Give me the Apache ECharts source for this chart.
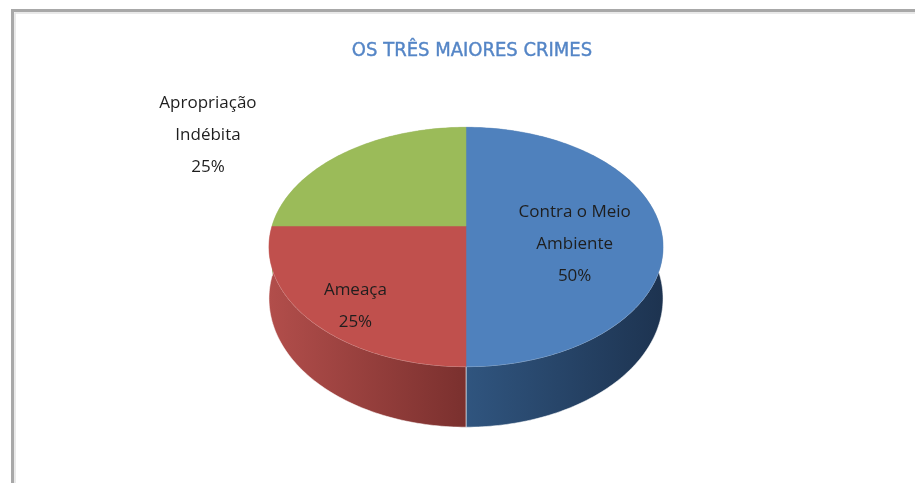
<!DOCTYPE html>
<html>
<head>
<meta charset="utf-8">
<script src="https://cdn.jsdelivr.net/npm/echarts@6/dist/echarts.min.js"></script>
<style>
  html, body { margin: 0; padding: 0; background: #fff; }
  #chart { width: 915px; height: 483px; }
</style>
</head>
<body>
<div id="chart"></div>
<script>
// dados do gráfico
const categories = ['Contra o Meio Ambiente', 'Ameaça', 'Apropriação Indébita']
const labelNames = ['Contra o Meio\nAmbiente', 'Ameaça', 'Apropriação\nIndébita']
const values = [50, 25, 25]

// estilo de cada fatia
const topColors = ['#4F81BD', '#C0504D', '#9BBB59']
const sideColors = [['#30557f', '#1d3350'], ['#b24e4b', '#7a302e'], ['#7d9a45', '#5f7834']]
// posição do rótulo relativa ao centro (fração dos raios)
const labelSpots = [[0.56, 0.16], [-0.57, 0.69], [-1.33, -0.78]]

// geometria da pizza 3D (perspectiva simples)
const cx = 466, cy = 226, A = 194, B = 116, p = 0.175, D = 50

const total = values.reduce((a, b) => a + b, 0)
const starts = []
let acc = 0
values.forEach(v => { starts.push(acc / total * Math.PI * 2); acc += v })

function project(theta, drop) {
    const u = Math.sin(theta), v = Math.cos(theta)
    const w = 1 + p * v
    return [cx + A * u / w, cy + (-B * v + drop) / w]
}

function arc(t0, t1, drop) {
    const pts = []
    const n = Math.max(2, Math.ceil((t1 - t0) / (Math.PI / 180)))
    for (let i = 0; i <= n; i++) {
        pts.push(project(t0 + (t1 - t0) * i / n, drop))
    }
    return pts
}

function sliceRange(i) {
    return [starts[i], starts[i] + values[i] / total * Math.PI * 2]
}

function renderSide(params, api) {
    const i = params.dataIndex
    const [t0, t1] = sliceRange(i)
    const pts = arc(t0, t1, 0).concat(arc(t0, t1, D).reverse())
    return {
        type: 'polygon',
        shape: { points: pts },
        style: {
            fill: new echarts.graphic.LinearGradient(0, 0, 1, 0, [
                { offset: 0, color: sideColors[i][0] },
                { offset: 1, color: sideColors[i][1] }
            ]),
            stroke: 'rgba(255,255,255,0.55)',
            lineWidth: 1
        }
    }
}

function renderTop(params, api) {
    const i = params.dataIndex
    const [t0, t1] = sliceRange(i)
    const pts = [[cx, cy]].concat(arc(t0, t1, 0))
    const pct = Math.round(values[i] / total * 100) + '%'
    return {
        type: 'group',
        children: [
            {
                type: 'polygon',
                shape: { points: pts },
                style: { fill: topColors[i], stroke: topColors[i], lineWidth: 0.5 }
            },
            {
                type: 'text',
                z2: 10,
                style: {
                    x: cx + A * labelSpots[i][0],
                    y: cy + B * labelSpots[i][1],
                    text: labelNames[i] + '\n' + pct,
                    align: 'center',
                    verticalAlign: 'middle',
                    fontFamily: 'Open Sans',
                    fontSize: 17,
                    lineHeight: 32,
                    fill: '#1e1e1e'
                }
            }
        ]
    }
}

const chart = echarts.init(document.getElementById('chart'))

const option = {
    backgroundColor: '#fff',
    animation: false,
    title: {
        text: 'OS TRÊS MAIORES CRIMES',
        left: 467,
        top: 36,
        textAlign: 'center',
        textStyle: {
            color: '#5485c6',
            fontFamily: "'Liberation Sans Narrow', 'DejaVu Sans Condensed', sans-serif",
            fontWeight: 'normal',
            fontSize: 20,
            textBorderColor: '#5485c6',
            textBorderWidth: 0.4
        }
    },
    graphic: [
        {
            type: 'polyline',
            shape: { points: [[12.5, 483], [12.5, 10.5], [915, 10.5]] },
            style: { stroke: '#a8a8a8', lineWidth: 3, fill: null }
        },
        {
            type: 'polyline',
            shape: { points: [[15, 483], [15, 13], [915, 13]] },
            style: { stroke: '#e2e2e2', lineWidth: 1.5, fill: null }
        }
    ],
    series: [
        {
            type: 'custom',
            coordinateSystem: 'none',
            name: 'lados',
            z: 1,
            data: values.map((v, i) => ({ name: categories[i], value: v })),
            renderItem: renderSide
        },
        {
            type: 'custom',
            coordinateSystem: 'none',
            name: 'topo',
            z: 2,
            data: values.map((v, i) => ({ name: categories[i], value: v })),
            renderItem: renderTop
        }
    ]
}

chart.setOption(option)
</script>
</body>
</html>
